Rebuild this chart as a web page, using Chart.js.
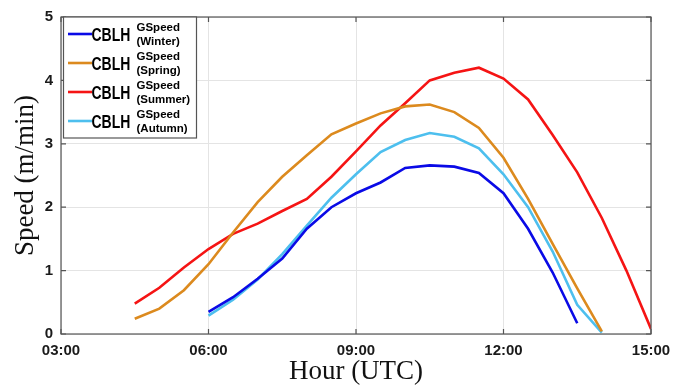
<!DOCTYPE html>
<html>
<head>
<meta charset="utf-8">
<script src="https://cdn.jsdelivr.net/npm/chart.js@4"></script>
<style>
  html, body { margin: 0; padding: 0; background: #fff; }
  #chart { display: block; }
</style>
</head>
<body>
<canvas id="chart" width="685" height="389"></canvas>
<script>
// Hours (UTC) of each half-hour sample
const winterHours = [6, 6.5, 7, 7.5, 8, 8.5, 9, 9.5, 10, 10.5, 11, 11.5, 12, 12.5, 13, 13.5];
const springHours = [4.5, 5, 5.5, 6, 6.5, 7, 7.5, 8, 8.5, 9, 9.5, 10, 10.5, 11, 11.5, 12, 12.5, 13, 13.5, 14];
const summerHours = [4.5, 5, 5.5, 6, 6.5, 7, 7.5, 8, 8.5, 9, 9.5, 10, 10.5, 11, 11.5, 12, 12.5, 13, 13.5, 14, 14.5, 15];
const autumnHours = [6, 6.5, 7, 7.5, 8, 8.5, 9, 9.5, 10, 10.5, 11, 11.5, 12, 12.5, 13, 13.5, 14];

// CBLH growth speed (m/min)
const winterSpeed = [0.35, 0.58, 0.87, 1.19, 1.66, 2.0, 2.22, 2.39, 2.62, 2.66, 2.64, 2.54, 2.22, 1.66, 0.97, 0.17];
const springSpeed = [0.24, 0.40, 0.69, 1.10, 1.60, 2.08, 2.48, 2.82, 3.15, 3.32, 3.48, 3.59, 3.62, 3.50, 3.25, 2.78, 2.13, 1.42, 0.72, 0.04];
const summerSpeed = [0.48, 0.73, 1.05, 1.34, 1.58, 1.74, 1.94, 2.13, 2.48, 2.88, 3.29, 3.64, 4.00, 4.12, 4.20, 4.03, 3.70, 3.14, 2.55, 1.83, 1.00, 0.08];
const autumnSpeed = [0.29, 0.54, 0.86, 1.26, 1.71, 2.15, 2.52, 2.87, 3.06, 3.17, 3.11, 2.93, 2.52, 2.00, 1.30, 0.46, 0.02];

const seasons = ['Winter', 'Spring', 'Summer', 'Autumn'];
const colors = ['#0a0ae6', '#dc8a1e', '#f51414', '#4dbfee'];
const xTicks = [3, 6, 9, 12, 15];
const yTicks = [0, 1, 2, 3, 4, 5];

const series = [
    [winterHours, winterSpeed],
    [springHours, springSpeed],
    [summerHours, summerSpeed],
    [autumnHours, autumnSpeed]
];

const datasets = series.map(([hours, speed], i) => ({
    label: 'CBLH GSpeed (' + seasons[i] + ')',
    season: seasons[i],
    data: hours.map((h, k) => ({ x: h, y: speed[k] })),
    borderColor: colors[i],
    backgroundColor: colors[i],
    borderWidth: 2.6,
    pointRadius: 0,
    tension: 0,
    fill: false
}));

// box around the plot area, like the matlab axes
const framePlugin = {
    id: 'frame',
    afterDatasetsDraw(chart) {
        const { ctx, chartArea: a } = chart;
        ctx.save();
        ctx.strokeStyle = '#555';
        ctx.lineWidth = 1.2;
        ctx.strokeRect(a.left, a.top, a.right - a.left, a.bottom - a.top);
        // small inward tick marks
        const xs = chart.scales.x, ys = chart.scales.y;
        ctx.beginPath();
        xTicks.forEach(t => {
            const px = xs.getPixelForValue(t);
            ctx.moveTo(px, a.bottom); ctx.lineTo(px, a.bottom - 5);
            ctx.moveTo(px, a.top); ctx.lineTo(px, a.top + 5);
        });
        yTicks.forEach(t => {
            const py = ys.getPixelForValue(t);
            ctx.moveTo(a.left, py); ctx.lineTo(a.left + 5, py);
            ctx.moveTo(a.right, py); ctx.lineTo(a.right - 5, py);
        });
        ctx.stroke();
        ctx.restore();
    }
};

// legend with the superscript / two-line label
const legendPlugin = {
    id: 'seasonLegend',
    afterDraw(chart) {
        const { ctx } = chart;
        const x0 = 63.5, y0 = 17, w = 133, h = 121;
        ctx.save();
        ctx.fillStyle = '#fff';
        ctx.fillRect(x0, y0, w, h);
        ctx.strokeStyle = '#555';
        ctx.lineWidth = 1.2;
        ctx.strokeRect(x0, y0, w, h);
        chart.data.datasets.forEach((ds, i) => {
            const cy = 34 + i * 29;
            ctx.strokeStyle = ds.borderColor;
            ctx.lineWidth = 2.6;
            ctx.beginPath();
            ctx.moveTo(68, cy);
            ctx.lineTo(92, cy);
            ctx.stroke();

            ctx.fillStyle = '#000';
            ctx.textBaseline = 'alphabetic';
            ctx.textAlign = 'left';
            ctx.save();
            ctx.translate(91.5, cy + 7);
            ctx.scale(1, 1.3);
            ctx.font = 'bold 14px "Liberation Sans", Arial, sans-serif';
            ctx.fillText('CBLH', 0, 0);
            ctx.restore();

            ctx.font = 'bold 11.5px "Liberation Sans", Arial, sans-serif';
            ctx.fillText('GSpeed', 136.5, cy - 3);
            ctx.fillText('(' + ds.season + ')', 136.5, cy + 11);
        });
        ctx.restore();
    }
};

const tickFont = { family: '"Liberation Sans", Arial, sans-serif', size: 15, weight: 'bold' };
const titleFont = { family: '"Liberation Serif", "Times New Roman", serif', size: 27 };

new Chart(document.getElementById('chart'), {
    type: 'line',
    data: { datasets: datasets },
    options: {
        responsive: false,
        devicePixelRatio: 1,
        animation: false,
        layout: { padding: { top: 15, right: 34, bottom: 0, left: 0 } },
        plugins: {
            legend: { display: false },
            tooltip: { enabled: false }
        },
        scales: {
            x: {
                type: 'linear',
                min: 3,
                max: 15,
                afterBuildTicks: scale => { scale.ticks = xTicks.map(v => ({ value: v })); },
                afterFit: scale => { scale.height = 55; },
                ticks: {
                    font: tickFont,
                    color: '#1a1a1a',
                    padding: 8,
                    maxRotation: 0,
                    callback: v => String(v).padStart(2, '0') + ':00'
                },
                grid: { color: '#e4e4e4', lineWidth: 1, drawTicks: false },
                border: { display: false },
                title: {
                    display: true,
                    text: 'Hour (UTC)',
                    font: titleFont,
                    color: '#111',
                    padding: { top: 0, bottom: 1 }
                }
            },
            y: {
                min: 0,
                max: 5,
                afterBuildTicks: scale => { scale.ticks = yTicks.map(v => ({ value: v })); },
                afterFit: scale => { scale.width = 61; },
                ticks: {
                    font: tickFont,
                    color: '#1a1a1a',
                    padding: 8
                },
                grid: { color: '#e4e4e4', lineWidth: 1, drawTicks: false },
                border: { display: false },
                title: {
                    display: true,
                    text: 'Speed (m/min)',
                    font: titleFont,
                    color: '#111',
                    padding: { top: 10, bottom: 0 }
                }
            }
        }
    },
    plugins: [framePlugin, legendPlugin]
});
</script>
</body>
</html>
